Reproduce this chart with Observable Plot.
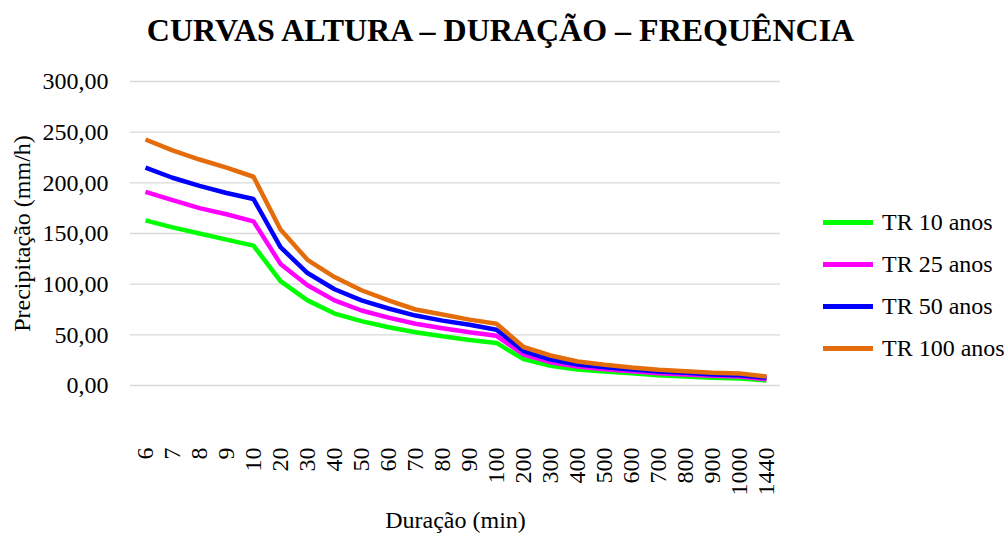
<!DOCTYPE html>
<html>
<head>
<meta charset="utf-8">
<script src="https://cdn.jsdelivr.net/npm/d3@7"></script>
<script src="https://cdn.jsdelivr.net/npm/@observablehq/plot@0.6"></script>
<style>
  html, body { margin: 0; padding: 0; background: #fff; }
  #wrap { position: relative; width: 1004px; height: 533px; overflow: hidden; font-family: "Liberation Serif"; }
  #chart svg text { font-family: "Liberation Serif"; }
  #legend { position: absolute; left: 823px; top: 201px; white-space: nowrap; }
  .item { display: flex; align-items: center; height: 42px; font-size: 24px; color: #000; white-space: nowrap; font-family: "Liberation Serif"; }
  .sw { width: 50px; height: 5px; margin-right: 9px; flex: none; }
</style>
</head>
<body>
<div id="wrap"><div id="chart"></div><div id="legend"></div></div>
<script>
const durations = ["6","7","8","9","10","20","30","40","50","60","70","80","90","100","200","300","400","500","600","700","800","900","1000","1440"];
const seriesNames = ["TR 10 anos","TR 25 anos","TR 50 anos","TR 100 anos"];
const seriesColors = ["#00FF00","#FF00FF","#0000FF","#E46C0A"];
const tr10  = [163,156,150,144,138,103,84,71,63.5,57.5,52.6,48.7,45,42,26,19.4,15.8,13.8,12.2,10.2,8.9,7.6,6.9,4.9];
const tr25  = [191,183,175,169,162,120,99,84,74,67,61,56.5,52.6,49,30.6,23,18.8,16,14,12.2,10.9,9.6,8.9,6.2];
const tr50  = [215,205,197,190,184,136.5,111,95,84,76,69,64,60,55,34,25.5,20.7,18,15.8,13.8,12.5,10.9,10.2,7.6];
const tr100 = [242.8,232,223,215,206,154,124,107,94,84,75,70,65,61,38,29.6,23.7,20.4,17.8,15.5,14,12.5,11.8,8.9];
const yTicks = [0,50,100,150,200,250,300];
const title = "CURVAS ALTURA – DURAÇÃO – FREQUÊNCIA";
const xTitle = "Duração (min)";
const yTitle = "Precipitação (mm/h)";

const allSeries = [tr10, tr25, tr50, tr100];
const data = [];
allSeries.forEach((vals, si) => vals.forEach((v, i) => data.push({series: seriesNames[si], dur: durations[i], value: v})));

const fmt = d => d.toFixed(2).replace(".", ",");

const chart = Plot.plot({
  width: 1004,
  height: 533,
  marginTop: 81,
  marginBottom: 148,
  marginLeft: 130,
  marginRight: 224,
  style: {fontFamily: "Liberation Serif", fontSize: "24px", color: "#000", background: "#fff", overflow: "visible"},
  x: {type: "point", domain: durations, padding: 0.5},
  y: {domain: [0, 300]},
  color: {domain: seriesNames, range: seriesColors},
  marks: [
    Plot.gridY(yTicks, {stroke: "#d9d9d9", strokeOpacity: 1, strokeWidth: 1.3}),
    Plot.axisY(yTicks, {tickSize: 0, tickPadding: 22, tickFormat: fmt, label: null, fontSize: 24}),
    Plot.axisX({tickRotate: -90, tickSize: 0, tickPadding: 62, label: null, fontSize: 24}),
    Plot.line(data, {x: "dur", y: "value", z: "series", stroke: "series", strokeWidth: 4.5, strokeLinejoin: "miter", strokeLinecap: "butt"}),
    Plot.text([yTitle], {frameAnchor: "left", dx: -108, rotate: -90, textAnchor: "middle", lineAnchor: "middle", fontSize: 24, fill: "#000"}),
    Plot.text([xTitle], {frameAnchor: "bottom", dy: 135, textAnchor: "middle", lineAnchor: "middle", fontSize: 24, fill: "#000"}),
    Plot.text([title], {frameAnchor: "top", dy: -51, dx: 45, textAnchor: "middle", lineAnchor: "middle", fontSize: 32, fontWeight: "bold", fill: "#000"})
  ]
});
document.getElementById("chart").appendChild(chart);

const legend = document.getElementById("legend");
seriesNames.forEach((name, i) => {
  const item = document.createElement("div");
  item.className = "item";
  const sw = document.createElement("div");
  sw.className = "sw";
  sw.style.background = seriesColors[i];
  const t = document.createElement("span");
  t.textContent = name;
  item.appendChild(sw);
  item.appendChild(t);
  legend.appendChild(item);
});
</script>
</body>
</html>
